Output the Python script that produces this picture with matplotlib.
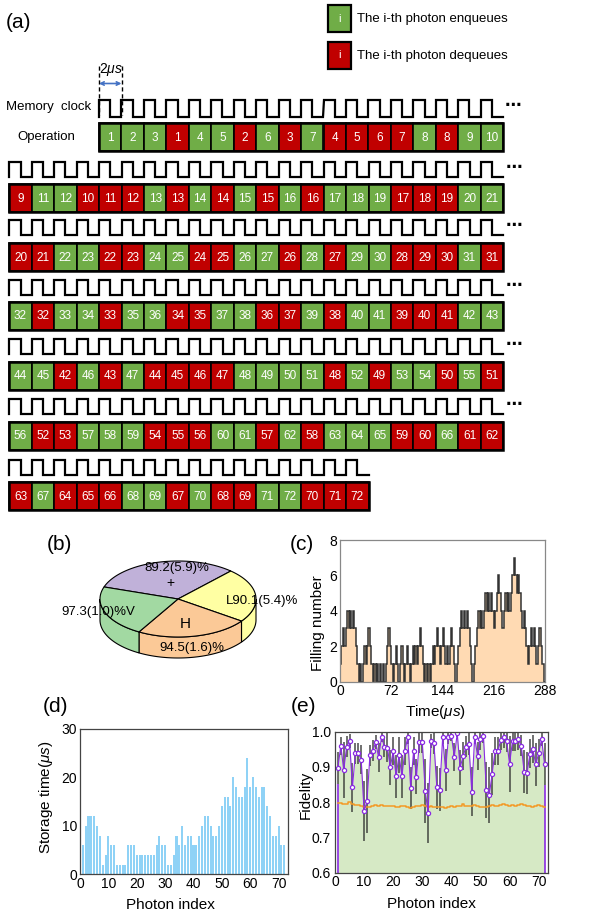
import numpy as np
import matplotlib
matplotlib.use('Agg')
import matplotlib.pyplot as plt
from matplotlib.patches import Rectangle, Polygon

plt.rcParams['font.family'] = ['Liberation Sans', 'DejaVu Sans']
plt.rcParams['mathtext.fontset'] = 'custom'
plt.rcParams['mathtext.it'] = 'Liberation Sans:italic'
plt.rcParams['mathtext.rm'] = 'Liberation Sans'

# ---------------- data ----------------
# (a) operation sequence, one list per row; E = enqueue, D = dequeue
row_ids = [
    [1, 2, 3, 1, 4, 5, 2, 6, 3, 7, 4, 5, 6, 7, 8, 8, 9, 10],
    [9, 11, 12, 10, 11, 12, 13, 13, 14, 14, 15, 15, 16, 16, 17, 18, 19, 17, 18, 19, 20, 21],
    [20, 21, 22, 23, 22, 23, 24, 25, 24, 25, 26, 27, 26, 28, 27, 29, 30, 28, 29, 30, 31, 31],
    [32, 32, 33, 34, 33, 35, 36, 34, 35, 37, 38, 36, 37, 39, 38, 40, 41, 39, 40, 41, 42, 43],
    [44, 45, 42, 46, 43, 47, 44, 45, 46, 47, 48, 49, 50, 51, 48, 52, 49, 53, 54, 50, 55, 51],
    [56, 52, 53, 57, 58, 59, 54, 55, 56, 60, 61, 57, 62, 58, 63, 64, 65, 59, 60, 66, 61, 62],
    [63, 67, 64, 65, 66, 68, 69, 67, 70, 68, 69, 71, 72, 70, 71, 72],
]
row_kinds = [
    "EEEDEEDEDEDDDDEDEE",
    "DEEDDDEDEDEDEDEEEDDDEE",
    "DDEEDDEEDDEEDEDEEDDDED",
    "EDEEDEEDDEEDDEDEEDDDEE",
    "EEDEDEDDDDEEEEDEDEEDED",
    "EDDEEEDDDEEDEDEEEDDEDD",
    "DEDDDEEDEDDEEDDD",
]

# (b) pie: labels, values, apparent angular share (deg) of each slice
pie_names = ['+', 'L', 'H', 'V']
pie_texts = ['89.2(5.9)%', '90.1(5.4)%', '94.5(1.6)%', '97.3(1.0)%']
pie_share_deg = [114.1, 82.9, 84.5, 78.5]
pie_colors = ['#c0b1d9', '#ffffa3', '#fbc997', '#a2d9a2']

# (c) filling number per 2-us slot (144 slots = 288 us)
filling = [1, 2, 3, 2, 3, 4, 3, 4, 3, 4, 3, 2, 1, 0, 1, 0, 1, 2,
           1, 2, 3, 2, 1, 0, 1, 0, 1, 0, 1, 0, 1, 0, 1, 2, 3, 2, 1, 0, 1, 2,
           1, 0, 1, 2, 1, 0, 1, 2, 1, 0, 1, 2, 1, 2, 1, 2, 3, 2, 1, 0, 1, 0,
           1, 0, 1, 2, 1, 2, 3, 2, 1, 2, 3, 2, 1, 2, 1, 2, 3, 2, 1, 0, 1, 2,
           3, 4, 3, 4, 3, 4, 3, 2, 1, 0, 1, 2, 3, 4, 3, 4, 3, 4, 5, 4, 5, 4,
           5, 4, 3, 4, 5, 6, 5, 4, 3, 4, 5, 4, 5, 4, 5, 6, 7, 6, 5, 6, 5, 4,
           3, 4, 3, 2, 1, 2, 3, 2, 3, 2, 1, 2, 3, 2, 1, 0]
slot_us = 2

# (d) storage time per photon (us)
storage = [6, 10, 12, 12, 12, 10, 8, 2, 4, 8, 6, 6, 2, 2, 2, 2, 6, 6, 6, 4,
           4, 4, 4, 4, 4, 4, 6, 8, 6, 6, 2, 2, 4, 8, 6, 10, 6, 8, 8, 6,
           6, 8, 10, 12, 12, 10, 8, 8, 10, 14, 16, 16, 14, 20, 18, 16, 16, 18, 24, 18,
           20, 18, 16, 18, 18, 14, 12, 8, 8, 10, 6, 6]

# (e) fidelity per photon, its error and the orange reference line
fidelity = [0.898, 0.960, 0.891, 0.957, 0.974, 0.842, 0.939, 0.939, 0.921, 0.775,
            0.803, 0.933, 0.946, 0.970, 0.927, 0.985, 0.957, 0.955, 0.899, 0.945,
            0.873, 0.934, 0.873, 0.945, 0.984, 0.841, 0.945, 0.872, 0.970, 0.970,
            0.832, 0.770, 0.974, 0.967, 0.842, 0.836, 0.984, 0.892, 0.984, 0.989,
            0.929, 0.995, 0.898, 0.930, 0.957, 0.965, 0.830, 0.985, 0.930, 0.979,
            0.989, 0.835, 0.820, 0.880, 0.945, 0.946, 0.977, 0.984, 0.973, 0.908,
            0.974, 0.974, 0.978, 0.960, 0.887, 0.882, 0.938, 0.950, 0.907, 0.939,
            0.979, 0.909]
fid_err = [0.045, 0.025, 0.08, 0.03, 0.02, 0.07, 0.03, 0.03, 0.04, 0.085,
           0.09, 0.03, 0.03, 0.02, 0.04, 0.015, 0.03, 0.04, 0.05, 0.04,
           0.06, 0.05, 0.06, 0.04, 0.02, 0.06, 0.04, 0.05, 0.03, 0.03,
           0.09, 0.085, 0.02, 0.03, 0.06, 0.06, 0.02, 0.06, 0.02, 0.015,
           0.04, 0.01, 0.05, 0.04, 0.03, 0.03, 0.07, 0.02, 0.04, 0.03,
           0.02, 0.08, 0.08, 0.06, 0.04, 0.04, 0.03, 0.03, 0.03, 0.08,
           0.03, 0.03, 0.03, 0.03, 0.06, 0.06, 0.04, 0.04, 0.06, 0.04,
           0.02, 0.06]
reference = [0.797, 0.797, 0.795, 0.795, 0.800, 0.795, 0.792, 0.792, 0.790, 0.787,
             0.785, 0.787, 0.790, 0.792, 0.790, 0.792, 0.788, 0.788, 0.790, 0.790,
             0.786, 0.786, 0.790, 0.790, 0.787, 0.783, 0.785, 0.788, 0.790, 0.792,
             0.790, 0.787, 0.788, 0.785, 0.785, 0.787, 0.785, 0.783, 0.787, 0.788,
             0.787, 0.788, 0.790, 0.795, 0.790, 0.788, 0.790, 0.793, 0.790, 0.787,
             0.786, 0.787, 0.790, 0.792, 0.790, 0.788, 0.792, 0.795, 0.792, 0.790,
             0.792, 0.790, 0.793, 0.795, 0.792, 0.788, 0.790, 0.787, 0.790, 0.792,
             0.788, 0.787]

# ---------------- figure ----------------
W, H = 613, 914
fig = plt.figure(figsize=(W / 100, H / 100), dpi=100)
ov = fig.add_axes([0, 0, 1, 1])
ov.set_xlim(0, W)
ov.set_ylim(H, 0)
ov.axis('off')

GREEN = '#70ad47'
RED = '#c00000'

# panel (a)
ov.text(6, 22, '(a)', fontsize=15, va='center', ha='left')
for ytop, kind, txt in [(5, GREEN, 'The i-th photon enqueues'), (41.7, RED, 'The i-th photon dequeues')]:
    ov.add_patch(Rectangle((327.7, ytop), 23, 27.3, facecolor=kind, edgecolor='black', lw=1.6))
    ov.text(339.2, ytop + 13.6, 'i', color='white', fontsize=8, ha='center', va='center')
    ov.text(357, ytop + 14, txt, fontsize=9.5, ha='left', va='center')

slot_w = 22.45
row_x0 = [99, 9.3, 9.3, 9.3, 9.3, 9.3, 9.3]
box_top = [123.3, 184.3, 243.3, 301.7, 361.7, 421.7, 482.3]
clk_top = [99.5, 161.7, 220, 280, 339.3, 399.3, 460]
clk_h = [17, 15, 15, 14.5, 15, 15, 15]
box_h = 27.8

for r, (ids, kinds) in enumerate(zip(row_ids, row_kinds)):
    x0 = row_x0[r]
    n = len(ids)
    # clock
    xs, ys = [x0], [clk_top[r] + clk_h[r]]
    for k in range(n):
        xa = x0 + k * slot_w
        xs += [xa, xa + slot_w / 2, xa + slot_w / 2, xa + slot_w]
        ys += [clk_top[r], clk_top[r], clk_top[r] + clk_h[r], clk_top[r] + clk_h[r]]
    ov.plot(xs, ys, color='black', lw=1.6, solid_joinstyle='miter')
    if r < len(row_ids) - 1:
        ov.text(x0 + n * slot_w + 2, clk_top[r] + 5, '\u22ef', fontsize=12,
                ha='left', va='center', family='DejaVu Sans', fontweight='bold')
    # boxes
    for k, (pid, kd) in enumerate(zip(ids, kinds)):
        xa = x0 + k * slot_w
        ov.add_patch(Rectangle((xa, box_top[r]), slot_w, box_h,
                               facecolor=GREEN if kd == 'E' else RED,
                               edgecolor='black', lw=1.2))
        ov.text(xa + slot_w / 2, box_top[r] + box_h / 2 + 0.5, str(pid), color='white',
                fontsize=8.5, ha='center', va='center')
    ov.add_patch(Rectangle((x0, box_top[r]), n * slot_w, box_h, fill=False,
                           edgecolor='black', lw=1.8))

ov.text(6, 107, 'Memory  clock', fontsize=9.5, ha='left', va='center')
ov.text(17, 137, 'Operation', fontsize=9.5, ha='left', va='center')
# 2 us marker
for xv in (99, 121.5):
    ov.plot([xv, xv], [66, 115], color='black', lw=1.0, ls=(0, (3, 2)))
ov.annotate('', xy=(99, 83.5), xytext=(121.5, 83.5),
            arrowprops=dict(arrowstyle='<->', color='#4472c4', lw=1.2,
                            shrinkA=0, shrinkB=0, mutation_scale=6))
ov.text(110.5, 70, r'2$\mu s$', fontsize=10, ha='center', va='center')

# panel (b) pseudo 3D pie
ov.text(47, 545, '(b)', fontsize=15, va='center', ha='left')
cx, cy, ea, eb, depth = 178, 599, 78, 38, 21
start = 198.5
edges = start + np.concatenate([[0], np.cumsum(pie_share_deg)])
for i in range(len(pie_share_deg)):
    ts = np.linspace(edges[i], edges[i + 1], 200)
    mask = np.sin(np.radians(ts)) >= -1e-9
    if mask.any():
        tt = np.radians(ts[mask])
        top = np.column_stack([cx + ea * np.cos(tt), cy + eb * np.sin(tt)])
        bot = top[::-1] + np.array([0, depth])
        ov.add_patch(Polygon(np.vstack([top, bot]), closed=True, facecolor=pie_colors[i],
                             edgecolor='black', lw=0.8, zorder=2))
for i in range(len(pie_share_deg)):
    tt = np.radians(np.linspace(edges[i], edges[i + 1], 200))
    arc = np.column_stack([cx + ea * np.cos(tt), cy + eb * np.sin(tt)])
    ov.add_patch(Polygon(np.vstack([[cx, cy], arc]), closed=True, facecolor=pie_colors[i],
                         edgecolor='black', lw=0.8, zorder=3))
ov.text(176.5, 568, pie_texts[0], fontsize=9.5, ha='center', va='center', zorder=5)
ov.text(170, 583, pie_names[0], fontsize=10, ha='center', va='center', zorder=5)
ov.text(226, 601, pie_names[1] + pie_texts[1], fontsize=9.5, ha='left', va='center', zorder=5)
ov.text(185, 624, pie_names[2], fontsize=11, ha='center', va='center', zorder=5)
ov.text(191.5, 648, pie_texts[2], fontsize=9.5, ha='center', va='center', zorder=5)
ov.text(61.5, 612, pie_texts[3] + pie_names[3], fontsize=9.5, ha='left', va='center', zorder=5)

# panel labels
ov.text(290, 545, '(c)', fontsize=15, va='center', ha='left')
ov.text(43, 707, '(d)', fontsize=15, va='center', ha='left')
ov.text(291, 707, '(e)', fontsize=15, va='center', ha='left')


def px_axes(l, r, t, b):
    return fig.add_axes([l / W, 1 - b / H, (r - l) / W, (b - t) / H])


def style(ax, spine_col):
    for s in ax.spines.values():
        s.set_color(spine_col)
        s.set_linewidth(0.9)
    ax.tick_params(length=0, labelsize=10, pad=2)


# panel (c)
axc = px_axes(340, 545, 540, 681.5)
edges_t = np.arange(len(filling) + 1) * slot_us
axc.stairs(filling, edges_t, fill=True, color='#ffdab3', baseline=0)
axc.stairs(filling, edges_t, color='#333333', lw=1.1, baseline=0)
axc.set_xlim(0, 288)
axc.set_ylim(0, 8)
axc.set_xticks([0, 72, 144, 216, 288])
axc.set_yticks([0, 2, 4, 6, 8])
style(axc, '#888888')
axc.set_ylabel('Filling number', fontsize=11)
axc.yaxis.set_label_coords(-0.075, 0.41)
axc.set_xlabel(r'Time($\mu s$)', fontsize=11)
axc.xaxis.set_label_coords(0.466, -0.15)

# panel (d)
idx = np.arange(1, len(storage) + 1)
axd = px_axes(80, 288, 729, 874.3)
axd.bar(idx, storage, width=0.72, color='#8fd2f6')
axd.set_xlim(0, 73.3)
axd.set_ylim(0, 30)
axd.set_xticks(np.arange(0, 71, 10))
axd.set_yticks([0, 10, 20, 30])
style(axd, '#444444')
axd.set_ylabel(r'Storage time($\mu s$)', fontsize=11)
axd.yaxis.set_label_coords(-0.118, 0.534)
axd.set_xlabel('Photon index', fontsize=11)
axd.xaxis.set_label_coords(0.433, -0.163)

# panel (e)
fid = np.array(fidelity)
err = np.array(fid_err)
pidx = np.arange(1, len(fid) + 1)
axe = px_axes(335, 548.3, 731.7, 872.7)
axe.fill_between(pidx, 0.6, fid, color='#d6e9c5', lw=0)
axe.vlines([pidx[0], pidx[-1]], 0.6, [fid[0] - err[0], fid[-1] - err[-1]],
           color='#8a2be2', lw=1.2)
axe.vlines(pidx, fid - err, fid + err, color='#2a2a2a', lw=1.1, alpha=0.85)
axe.step(pidx, reference, where='mid', color='#f39a26', lw=1.1)
axe.plot(pidx, fid, color='#8a2be2', lw=0.8, marker='o', ms=3, mfc='white',
         mec='#8a2be2', mew=0.9)
axe.set_xlim(0, 73.3)
axe.set_ylim(0.6, 1.0)
axe.set_xticks(np.arange(0, 71, 10))
axe.set_yticks([0.6, 0.7, 0.8, 0.9, 1.0])
axe.set_yticklabels(['0.6', '0.7', '0.8', '0.9', '1.0'])
style(axe, '#444444')
axe.tick_params(axis='y', pad=3)
axe.set_ylabel('Fidelity', fontsize=11)
axe.yaxis.set_label_coords(-0.103, 0.55)
axe.set_xlabel('Photon index', fontsize=11)
axe.xaxis.set_label_coords(0.453, -0.174)

fig.savefig('out.png', dpi=100)
